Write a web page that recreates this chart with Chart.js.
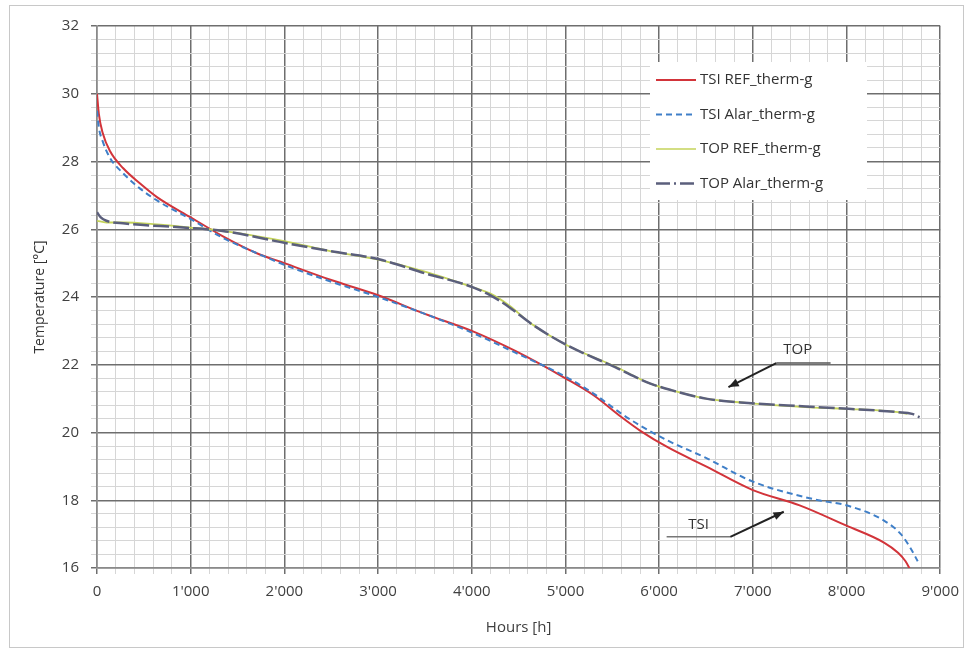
<!DOCTYPE html>
<html>
<head>
<meta charset="utf-8">
<script src="https://cdn.jsdelivr.net/npm/chart.js@4/dist/chart.umd.min.js"></script>
<style>
  html, body { margin: 0; padding: 0; background: #fff; }
  #wrap { width: 968px; height: 654px; position: relative; }
</style>
</head>
<body>
<div id="wrap"><canvas id="chart" width="968" height="654"></canvas></div>
<script>
// values
const tsiRefHours = [0, 20, 60, 140, 280, 460, 640, 1000, 1340, 1700, 2000, 2500, 3000, 3500, 4000, 4470, 5000, 5300, 5600, 5800, 6100, 6500, 7000, 7500, 8000, 8400, 8550, 8630, 8680]
const tsiRefTemp = [30.0, 29.4, 28.85, 28.3, 27.8, 27.35, 26.95, 26.35, 25.8, 25.3, 25.0, 24.5, 24.05, 23.5, 23.0, 22.4, 21.6, 21.1, 20.45, 20.05, 19.55, 19.0, 18.3, 17.85, 17.25, 16.75, 16.45, 16.2, 15.95]

const tsiAlarHours = [0, 20, 60, 140, 280, 460, 640, 1000, 1340, 1700, 2000, 2500, 3000, 3500, 4000, 4470, 5000, 5300, 5600, 5800, 6100, 6500, 7000, 7700, 8000, 8400, 8580, 8680, 8760]
const tsiAlarTemp = [29.5, 29.0, 28.6, 28.1, 27.65, 27.2, 26.85, 26.3, 25.75, 25.3, 24.95, 24.45, 24.0, 23.5, 22.95, 22.35, 21.65, 21.15, 20.55, 20.2, 19.75, 19.25, 18.55, 18.0, 17.85, 17.4, 17.0, 16.6, 16.2]

const topRefHours = [0, 100, 300, 600, 1000, 1340, 1700, 2000, 2500, 3000, 3500, 4000, 4200, 4400, 4640, 5000, 5530, 5900, 6130, 6500, 6950, 7560, 8000, 8550, 8650]
const topRefTemp = [26.25, 26.2, 26.2, 26.15, 26.05, 25.95, 25.8, 25.65, 25.35, 25.1, 24.75, 24.3, 24.1, 23.75, 23.2, 22.6, 21.95, 21.45, 21.25, 21.0, 20.87, 20.75, 20.7, 20.6, 20.55]

const topAlarHours = [0, 40, 100, 300, 920, 1340, 2000, 2500, 3000, 3500, 4000, 4200, 4400, 4640, 5000, 5530, 5900, 6130, 6500, 6950, 7560, 8020, 8550, 8700, 8780]
const topAlarTemp = [26.5, 26.35, 26.25, 26.17, 26.05, 25.95, 25.6, 25.35, 25.12, 24.7, 24.3, 24.05, 23.7, 23.2, 22.6, 21.93, 21.45, 21.25, 21.0, 20.87, 20.77, 20.7, 20.6, 20.55, 20.45]

const seriesNames = ['TSI REF_therm-g', 'TSI Alar_therm-g', 'TOP REF_therm-g', 'TOP Alar_therm-g']
const seriesColors = ['#d2343a', '#3f7fc8', '#c4d35a', '#5b5f7c']

const xTicks = [0, 1000, 2000, 3000, 4000, 5000, 6000, 7000, 8000, 9000]
const yTicks = [16, 18, 20, 22, 24, 26, 28, 30, 32]

function toPoints(hours, temps) {
  return hours.map((h, i) => ({ x: h, y: temps[i] }))
}

function isMajor(value, list) {
  return list.some(t => Math.abs(t - value) < 1e-6)
}

function fmtHours(v) {
  if (v === 0) return '0'
  return Math.round(v / 1000) + "'000"
}

const FONT = '"Open Sans", "Liberation Sans", sans-serif'

const frame = {
  id: 'frame',
  beforeDraw(chart) {
    const { ctx } = chart
    ctx.save()
    ctx.fillStyle = '#fff'
    ctx.fillRect(0, 0, chart.width, chart.height)
    ctx.strokeStyle = '#c8c8c8'
    ctx.lineWidth = 1
    ctx.strokeRect(9.5, 5.5, 954, 642)
    ctx.restore()
  },
}

function arrow(ctx, x1, y1, x2, y2) {
  ctx.beginPath()
  ctx.moveTo(x1, y1)
  ctx.lineTo(x2, y2)
  ctx.stroke()
  const a = Math.atan2(y2 - y1, x2 - x1)
  const len = 11
  ctx.beginPath()
  ctx.moveTo(x2, y2)
  ctx.lineTo(x2 - len * Math.cos(a - 0.38), y2 - len * Math.sin(a - 0.38))
  ctx.lineTo(x2 - len * Math.cos(a + 0.38), y2 - len * Math.sin(a + 0.38))
  ctx.closePath()
  ctx.fill()
}

const notes = {
  id: 'notes',
  afterDatasetsDraw(chart) {
    const { ctx, scales } = chart
    const X = v => scales.x.getPixelForValue(v)
    const Y = v => scales.y.getPixelForValue(v)
    ctx.save()
    ctx.font = '15px ' + FONT
    ctx.fillStyle = '#333'
    ctx.textAlign = 'center'
    ctx.textBaseline = 'middle'

    // TOP
    ctx.fillText('TOP', X(7480), Y(22.43))
    ctx.strokeStyle = '#555'
    ctx.lineWidth = 1.5
    ctx.beginPath()
    ctx.moveTo(X(7250), Y(22.05))
    ctx.lineTo(X(7830), Y(22.05))
    ctx.stroke()
    ctx.fillStyle = '#222'
    ctx.strokeStyle = '#222'
    ctx.lineWidth = 2
    arrow(ctx, X(7250), Y(22.05), X(6740), Y(21.34))

    // TSI
    ctx.fillStyle = '#333'
    ctx.fillText('TSI', X(6420), Y(17.27))
    ctx.strokeStyle = '#777'
    ctx.lineWidth = 1.5
    ctx.beginPath()
    ctx.moveTo(X(6080), Y(16.92))
    ctx.lineTo(X(6760), Y(16.92))
    ctx.stroke()
    ctx.fillStyle = '#222'
    ctx.strokeStyle = '#222'
    ctx.lineWidth = 2
    arrow(ctx, X(6760), Y(16.92), X(7330), Y(17.66))

    ctx.restore()
  },
  afterDraw(chart) {
    // legend box
    const { ctx } = chart
    const dashes = [[], [6, 4], [], [14, 4, 2, 4]]
    const widths = [2, 2, 1.5, 2.5]
    ctx.save()
    ctx.fillStyle = '#fff'
    ctx.fillRect(650, 62, 217, 138)
    ctx.font = '15px ' + FONT
    ctx.textAlign = 'left'
    ctx.textBaseline = 'middle'
    seriesNames.forEach((name, i) => {
      const y = 80 + i * 34.5
      ctx.strokeStyle = seriesColors[i]
      ctx.lineWidth = widths[i]
      ctx.setLineDash(dashes[i])
      ctx.beginPath()
      ctx.moveTo(656, y)
      ctx.lineTo(696, y)
      ctx.stroke()
      ctx.setLineDash([])
      ctx.fillStyle = '#333'
      ctx.fillText(name, 700, y)
    })
    ctx.restore()
  },
}

new Chart(document.getElementById('chart'), {
  type: 'line',
  data: {
    datasets: [
      {
        label: seriesNames[0],
        data: toPoints(tsiRefHours, tsiRefTemp),
        borderColor: seriesColors[0],
        borderWidth: 2,
        order: 3,
      },
      {
        label: seriesNames[1],
        data: toPoints(tsiAlarHours, tsiAlarTemp),
        borderColor: seriesColors[1],
        borderWidth: 2,
        borderDash: [6, 4],
        order: 2,
      },
      {
        label: seriesNames[2],
        data: toPoints(topRefHours, topRefTemp),
        borderColor: seriesColors[2],
        borderWidth: 1.8,
        order: 1,
      },
      {
        label: seriesNames[3],
        data: toPoints(topAlarHours, topAlarTemp),
        borderColor: seriesColors[3],
        borderWidth: 2.5,
        borderDash: [16, 4],
        order: 0,
      },
    ],
  },
  options: {
    responsive: false,
    animation: false,
    parsing: false,
    elements: {
      point: { radius: 0 },
      line: { tension: 0.35, cubicInterpolationMode: 'monotone', fill: false },
    },
    layout: { padding: { top: 26, right: 26, left: 0, bottom: 0 } },
    plugins: {
      legend: { display: false },
      tooltip: { enabled: false },
    },
    scales: {
      x: {
        type: 'linear',
        min: 0,
        max: 9000,
        ticks: {
          stepSize: 200,
          autoSkip: false,
          maxRotation: 0,
          color: '#404040',
          font: { family: FONT, size: 15 },
          padding: 9,
          callback: v => (isMajor(v, xTicks) ? fmtHours(v) : ''),
        },
        grid: {
          color: c => (isMajor(c.tick.value, xTicks) ? '#6e6e6e' : '#d6d6d6'),
          lineWidth: c => (isMajor(c.tick.value, xTicks) ? 1.5 : 1),
          tickLength: 6,
        },
        border: { color: '#8a8a8a', width: 1.5 },
        title: {
          display: true,
          text: 'Hours [h]',
          color: '#404040',
          font: { family: FONT, size: 15 },
          padding: { top: 17, bottom: 17 },
        },
        afterFit: s => { s.height = 86 },
      },
      y: {
        type: 'linear',
        min: 16,
        max: 32,
        ticks: {
          stepSize: 0.4,
          autoSkip: false,
          color: '#404040',
          font: { family: FONT, size: 15 },
          padding: 12,
          callback: v => (isMajor(v, yTicks) ? String(Math.round(v)) : ''),
        },
        grid: {
          color: c => (isMajor(c.tick.value, yTicks) ? '#6e6e6e' : '#d6d6d6'),
          lineWidth: c => (isMajor(c.tick.value, yTicks) ? 1.5 : 1),
          tickLength: 6,
        },
        border: { color: '#8a8a8a', width: 1.5 },
        title: {
          display: true,
          text: 'Temperature [°C]',
          color: '#333',
          font: { family: FONT, size: 14 },
          padding: { top: 32, bottom: 32 },
        },
        afterFit: s => { s.width = 97 },
      },
    },
  },
  plugins: [frame, notes],
})
</script>
</body>
</html>
